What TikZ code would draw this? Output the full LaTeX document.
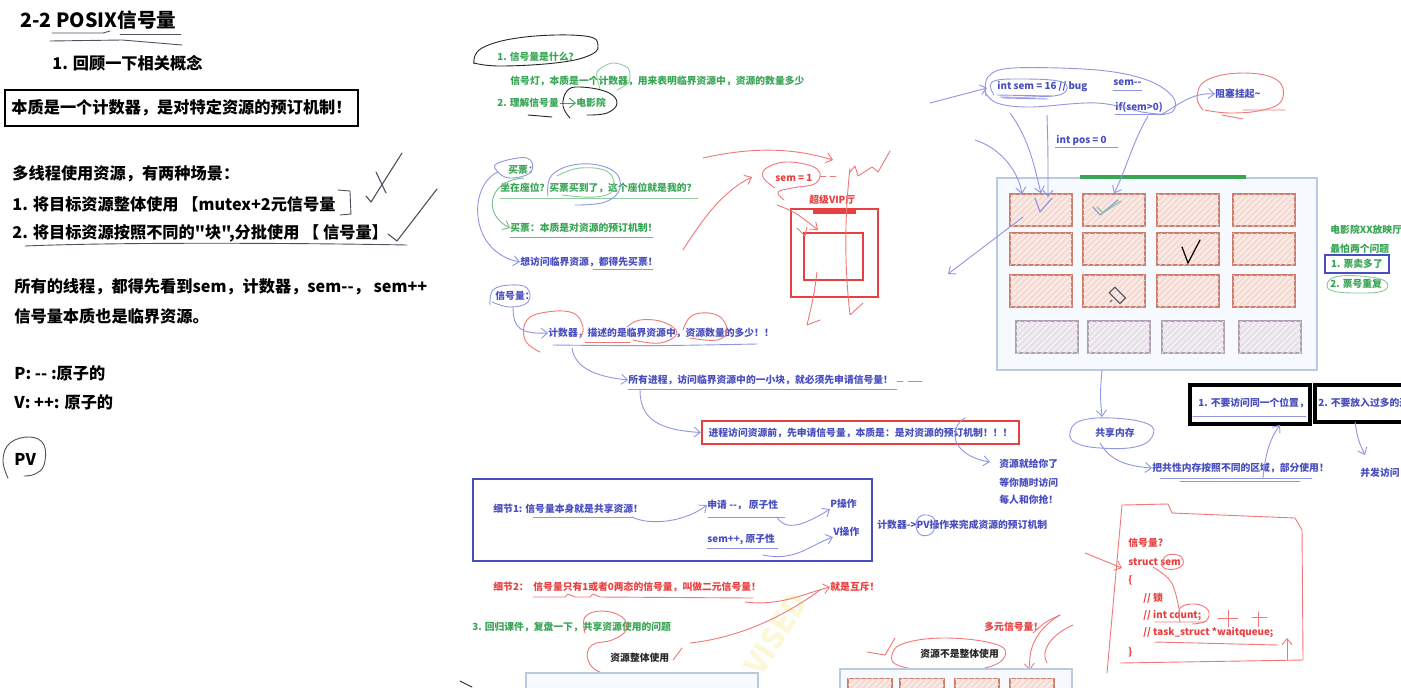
\documentclass[tikz,border=0pt]{standalone}
\usepackage{fontspec}
\newfontfamily\notefont{Noto Sans CJK SC}
\usetikzlibrary{arrows.meta, patterns}

\definecolor{notegreen}{RGB}{56,165,85}
\definecolor{noteblue}{RGB}{72,78,190}
\definecolor{notered}{RGB}{232,64,64}
\definecolor{penblue}{RGB}{145,150,225}
\definecolor{penred}{RGB}{240,120,120}
\definecolor{pengray}{RGB}{80,80,95}
\definecolor{hallline}{RGB}{185,202,225}
\definecolor{hallfill}{RGB}{246,249,253}
\definecolor{seatline}{RGB}{205,125,105}
\definecolor{seatfill}{RGB}{250,232,226}
\definecolor{backline}{RGB}{175,158,180}
\definecolor{backfill}{RGB}{241,237,242}
\definecolor{markyellow}{RGB}{252,248,215}

\begin{document}
\begin{tikzpicture}[x=0.5pt, y=-0.5pt,
  every node/.style={inner sep=0pt},
  bigtxt/.style={anchor=west, font=\notefont\bfseries\fontsize{8.1}{9}\selectfont},
  notetxt/.style={anchor=west, text=#1, font=\notefont\bfseries\fontsize{4.9}{6}\selectfont},
  gtxt/.style={notetxt=notegreen},
  btxt/.style={notetxt=noteblue},
  rtxt/.style={notetxt=notered},
  ktxt/.style={notetxt=black!85},
  pen/.style={draw=#1, line width=0.45pt, line cap=round, line join=round},
  pen/.default=penblue,
  barb/.style={-{Straight Barb[length=3pt, width=5pt]}},
  seatbox/.style={draw=seatline, line width=0.6pt, fill=seatfill, minimum width=31pt, minimum height=16pt,
    postaction={pattern=north east lines, pattern color=seatline!35}},
  backseat/.style={seatbox, draw=backline, fill=backfill,
    postaction={pattern=north east lines, pattern color=backline!35}},
  hallbox/.style={draw=hallline, fill=hallfill, line width=0.8pt},
  rulebox/.style={draw=black, line width=1.6pt}
]
\useasboundingbox (0,0) rectangle (1401,687);
\fill[white] (0,0) rectangle (1401,687);

% ===== 水印 =====
\node[rotate=58, text=markyellow, font=\notefont\bfseries\fontsize{15}{15}\selectfont] (mark) at (776,634) {VISED};

% ===== 左栏：概念回顾 =====
\node[bigtxt, font=\notefont\bfseries\fontsize{9.8}{11}\selectfont] (title) at (20,20) {2-2 POSIX信号量};
\draw[pen=pengray] (52,33) -- (103,33) -- (110,31);
\draw[pen=pengray] (120,34) -- (181,34);
\draw[pen=pengray] (50,41) -- (122,40) -- (182,45);
\node[bigtxt] (recall) at (52,63) {1. 回顾一下相关概念};
\node[bigtxt, anchor=center, draw, line width=1.4pt, minimum width=176.5pt, minimum height=18pt] (essence) at (181.5,108) {本质是一个计数器，是对特定资源的预订机制！};

\node[bigtxt] (scene) at (12,174) {多线程使用资源，有两种场景：};
\node[bigtxt] (scene1) at (12,204) {1. 将目标资源整体使用 【mutex+2元信号量};
\node[bigtxt] (scene2) at (12,233) {2. 将目标资源按照不同的"块",分批使用 【 信号量】};
\draw[pen=pengray] (scene1.east) ++(2,-14) -- ++(12,1) -- ++(1,23) -- ++(-11,1);
\draw[pen=pengray] (25,246) .. controls (120,242) and (300,243) .. (407,245);
\draw[pen=pengray, line width=0.55pt] (366,196) -- (371,202) -- (402,153);
\draw[pen=pengray, line width=0.55pt] (376,172) -- (386,193);
\draw[pen=pengray, line width=0.55pt] (388,234) -- (397,241) -- (437,189);

\node[bigtxt] (allsee) at (14,287) {所有的线程，都得先看到sem，计数器，sem--， sem++};
\node[bigtxt] (critical) at (14,316) {信号量本质也是临界资源。};
\node[bigtxt] (pop1) at (14,373) {P: -- :原子的};
\node[bigtxt] (vop1) at (14,402) {V: ++: 原子的};
\node[bigtxt] (pv) at (14,459) {PV};
\draw[pen=pengray] plot[smooth, tension=0.7] coordinates {(8,478) (3,460) (10,443) (30,437) (44,445) (44,465) (35,474) (24,476)};

% ===== 中栏：电影院类比 =====
\node[gtxt] (what) at (497,57) {1. 信号量是什么？};
\draw[pen=black!85] plot[smooth, tension=0.7] coordinates {(474,64) (482,48) (525,37) (585,36) (598,46) (588,56) (555,63) (500,66) (474,63)};
\node[gtxt] (lamp) at (510,81) {信号灯，本质是一个计数器，用来表明临界资源中，资源的数量多少};
\draw[pen=notegreen!55] plot[smooth] coordinates {(600,89) (597,72) (612,63) (628,68) (629,82) (617,90)};
\node[gtxt] (understand) at (497,103) {2. 理解信号量};
\node[gtxt] (theater) at (576,103) {电影院};
\draw[pen=notegreen, barb] (understand.east) ++(1,0) -- (theater.west);
\draw[pen=black!85] plot[smooth, tension=0.7] coordinates {(570,118) (563,106) (567,91) (580,87) (607,92) (617,103) (607,113) (587,115)};
\draw[pen=black!85] (528,115) -- (552,117);

\node[gtxt] (buy) at (508,170) {买票：};
\draw[pen] plot[smooth cycle, tension=0.7] coordinates {(498,163) (527,158) (531,172) (510,178) (497,171)};
\node[gtxt] (sitdown) at (500,188) {坐在座位？买票买到了，这个座位就是我的？};
\draw[pen=notegreen!55] (500,198) -- (698,198);
\draw[pen] plot[smooth, tension=0.7] coordinates {(548,196) (552,175) (580,164) (612,170) (620,188) (605,202) (575,205)};
\draw[pen=notegreen!60] plot[smooth, tension=0.7] coordinates {(557,176) (580,168) (608,172) (613,190) (595,197) (562,195)};
\node[gtxt] (buyessence) at (510,228) {买票：本质是对资源的预订机制！};
\draw[pen] (510,237) -- (653,237);
\draw[pen=notegreen!70, barb] (524,178) .. controls (488,180) and (482,214) .. (buyessence.west);
\node[btxt] (mustbuy) at (520,262) {想访问临界资源，都得先买票！};
\draw[pen] (593,269) -- (653,269);
\draw[pen, barb] (498,172) .. controls (468,185) and (468,252) .. (mustbuy.west);

% 超级VIP厅
\node[rtxt] (semone) at (775,178) {sem = 1};
\draw[pen=penred] plot[smooth, tension=0.7] coordinates {(775,188) (763,177) (768,167) (790,162) (817,169) (816,183) (792,188) (778,192) (784,200)};
\draw[pen=penred] (820,176) -- (826,176) (830,176) -- (836,176);
\draw[pen=penred, barb] (683,250) .. controls (705,215) and (725,190) .. (752,177);
\draw[pen=penred, barb] (703,158) .. controls (760,145) and (800,150) .. (833,160);
\draw[pen=penred] (850,172) -- (855,166) -- (858,176) -- (872,167) -- (878,172) -- (890,151);
\node[rtxt] (viplabel) at (809,200) {超级VIP厅};
\node[draw=notered, line width=1.2pt, minimum width=43.5pt, minimum height=44pt] (viphall) at (834.5,253) {};
\draw[notered, line width=2.4pt] (813,212) -- (856,212);
\node[draw=notered, line width=1.2pt, minimum width=29.5pt, minimum height=23.5pt] (vipinner) at (833.5,256.5) {};
\draw[pen=penred, barb] (777,205) .. controls (795,212) .. (818,230);
\draw[pen=penred] (797,228) -- (805,236) -- (807,227);
\draw[pen=penred] (850,168) .. controls (843,230) and (846,280) .. (850,315) -- (863,303);
\draw[pen=penred] (817,272) .. controls (814,295) .. (807,325) -- (820,320);

% 信号量：计数器
\node[btxt] (sigq) at (495,296) {信号量：};
\draw[pen] plot[smooth, tension=0.7] coordinates {(490,305) (493,290) (510,285) (527,288) (528,302) (510,307) (492,302)};
\node[btxt] (counter) at (548,333) {计数器，描述的是临界资源中，资源数量的多少！！};
\draw[pen, barb] (513,307) .. controls (513,328) and (520,334) .. (counter.west);
\draw[pen=penred] plot[smooth, tension=0.7] coordinates {(540,352) (525,340) (527,320) (547,312) (573,313) (583,327) (580,338)};
\draw[pen=penred] plot[smooth, tension=0.7] coordinates {(627,327) (640,320) (663,322) (677,333) (660,343) (633,340)};
\draw[pen=penred] plot[smooth, tension=0.7] coordinates {(683,330) (693,315) (717,315) (727,330) (717,340) (690,338)};
\draw[pen=penred] (585,342) -- (630,342);
\draw[pen] (553,345) .. controls (650,346) .. (757,344);
\node[btxt] (allproc) at (628,380) {所有进程，访问临界资源中的一小块，就必须先申请信号量！};
\draw[pen] (897,381) -- (903,381) (908,381) -- (922,381);
\draw[pen, barb] (572,348) .. controls (575,370) and (600,377) .. (allproc.west);
\draw[pen] (628,389) -- (897,389);
\node[btxt, anchor=center, draw=notered, line width=1.2pt, minimum width=158.5pt, minimum height=11.5pt] (reserve) at (860.5,432.5) {进程访问资源前，先申请信号量，本质是：是对资源的预订机制！！！};
\draw[pen, barb] (640,390) .. controls (640,420) and (660,430) .. (reserve.west);
\draw[pen, barb] (965,418) .. controls (948,428) and (950,455) .. (990,462);
\node[btxt] (give1) at (999,464) {资源就给你了};
\node[btxt] (give2) at (999,483) {等你随时访问};
\node[btxt] (give3) at (999,500) {每人和你抢！};

% 细节1 / 细节2
\node[draw=noteblue, line width=1pt, minimum width=199.5pt, minimum height=41pt] (detailbox) at (672.5,520) {};
\node[btxt] (detail1) at (493,509) {细节1: 信号量本身就是共享资源！};
\draw[pen] (533,517) -- (633,517);
\node[btxt] (apply) at (707,505) {申请 --， 原子性};
\draw[pen] (708,517) -- (785,517);
\node[btxt] (sempp) at (707,539) {sem++, 原子性};
\draw[pen] (707,548) -- (778,548);
\node[btxt] (pstep) at (830,504) {P操作};
\node[btxt] (vstep) at (833,532) {V操作};
\draw[pen, barb] (632,517) .. controls (650,526) and (685,522) .. (apply.west);
\draw[pen, barb] (777,517) .. controls (785,532) and (805,525) .. (pstep.south west);
\draw[pen, barb] (763,555) .. controls (795,562) and (810,545) .. (vstep.south west);
\node[btxt] (pvmech) at (877,525) {计数器->PV操作来完成资源的预订机制};
\draw[pen] plot[smooth cycle, tension=0.7] coordinates {(916,526) (919,517) (928,515) (935,521) (932,533) (921,535)};

\node[rtxt] (detail2) at (493,587) {细节2：};
\node[rtxt] (binary) at (533,587) {信号量只有1或者0两态的信号量，叫做二元信号量！};
\draw[pen=penred] (533,597) -- (565,597) -- (568,594) -- (575,597) -- (590,597) -- (593,594) -- (600,597) -- (753,598);
\node[rtxt] (mutex) at (830,587) {就是互斥！};
\draw[pen=penred, barb] (745,602) .. controls (780,606) and (800,595) .. (mutex.west);
\draw[pen=penred] (690,643) .. controls (745,637) and (790,612) .. (820,590);
\node[gtxt] (review) at (472,627) {3. 回归课件，复盘一下，共享资源使用的问题};
\draw[pen=penred] plot[smooth, tension=0.7] coordinates {(585,633) (585,617) (602,611) (622,617) (626,630) (612,640) (592,645) (588,660) (602,673) (635,678)};
\draw[pen=penred] (673,660) -- (682,648);
\node[ktxt] (whole) at (610,658) {资源整体使用};
\node[hallbox, anchor=north west, minimum width=116pt, minimum height=30pt] (wholebox) at (525,672) {};
\draw[pen=black!85] (460,681) -- (472,687);

\node[ktxt] (partlabel) at (920,654) {资源不是整体使用};
\draw[pen=penred] plot[smooth cycle, tension=0.7] coordinates {(892,655) (905,643) (947,638) (995,644) (1005,656) (985,668) (940,671) (900,666)};
\draw[pen=penred] (867,652) -- (885,655) -- (895,638);
\node[rtxt] (multi) at (984,627) {多元信号量！};
\draw[pen=penred] (1033,633) .. controls (1045,622) .. (1060,615);
\draw[pen=penred, barb] (1060,615) .. controls (1035,630) and (1028,650) .. (1030,670);
\draw[pen=penred] (1073,625) .. controls (1050,635) and (1040,652) .. (1047,663);
\node[hallbox, anchor=north west, minimum width=116pt, minimum height=30pt] (partbox) at (839,668) {};
\foreach \x [count=\i] in {870,922,977,1032}
  \node[seatbox, anchor=north, minimum width=22pt] (pseat\i) at (\x,678) {};

% ===== 右栏：放映厅 =====
\node[btxt] (sem16) at (997,87) {int sem = 16 // bug};
\draw[pen] plot[smooth, tension=0.7] coordinates {(994,95) (992,82) (1020,79) (1062,82) (1062,94) (1030,97) (1000,97)};
\draw[pen] (997,95) -- (1052,96) (1003,98) -- (1048,99);
\node[btxt] (semdec) at (1113,83) {sem--};
\draw[pen] (1113,90) -- (1142,90);
\node[btxt] (semif) at (1115,107) {if(sem>0)};
\draw[pen] (1115,114) -- (1165,114);
\draw[pen] plot[smooth, tension=0.6] coordinates {(986,96) (988,77) (1013,68) (1097,70) (1147,80) (1173,97) (1172,112) (1148,113) (1097,103) (1030,107) (997,103) (985,92)};
\node[btxt] (pos) at (1056,140) {int pos = 0};
\draw[pen] (1055,147) -- (1118,147);
\node[btxt] (blocked) at (1215,94) {阻塞挂起\textasciitilde};
\draw[pen=penred] plot[smooth, tension=0.7] coordinates {(1203,110) (1197,97) (1207,80) (1243,73) (1277,80) (1282,100) (1263,110) (1230,113) (1205,110)};
\draw[pen=penred] (1243,110) -- (1285,110) (1222,115) -- (1243,119);
\draw[pen, barb] (1160,115) .. controls (1175,108) and (1190,92) .. (blocked.west);
\draw[pen, barb] (930,103) -- (987,88);

\node[hallbox, minimum width=160pt, minimum height=96pt] (hall) at (1157,274) {};
\draw[notegreen, line width=2pt] (1080,177) -- (1246,177);
\foreach \r/\y in {1/210,2/249,3/291}
  \foreach \c/\x in {1/1041,2/1114,3/1188,4/1264}
    \node[seatbox] (s\r\c) at (\x,\y) {};
\foreach \c/\x in {1/1047,2/1119,3/1193,4/1270}
  \node[backseat] (s4\c) at (\x,337) {};

\draw[pen, barb] (1010,113) .. controls (1030,140) and (1035,170) .. (s11.north);
\draw[pen, barb] (1047,115) .. controls (1048,150) .. (1048,197);
\draw[pen, barb] (975,140) .. controls (1000,148) and (1018,170) .. (1022,194);
\draw[pen, barb] (1148,116) .. controls (1132,143) and (1126,170) .. (s12.north);
\draw[pen, barb] (1023,217) -- (948,274);
\draw[pen, line width=0.6pt] (1035,198) -- (1040,212) -- (1052,198);
\draw[pen, line width=0.6pt] (1093,207) -- (1100,215) -- (1118,200);
\draw[pen=notegreen!60, line width=0.6pt] (1097,207) -- (1103,213) -- (1121,201);
\draw[black, line width=0.6pt, line cap=round] (1182,247) -- (1188,263) -- (1200,240);
\draw[pengray, line width=0.5pt, rotate around={45:(1117,295)}] (1113,288) rectangle (1121,303);
\draw[pengray, line width=0.5pt] (1112,300) -- (1110,302);

\node[gtxt] (worry0) at (1330,230) {电影院XX放映厅};
\node[gtxt] (worry) at (1330,249) {最怕两个问题};
\node[gtxt, anchor=center, draw=noteblue, line width=1pt, minimum width=32pt, minimum height=9pt] (worry1) at (1357,264) {1. 票卖多了};
\node[gtxt] (worry2) at (1330,284) {2. 票号重复};
\draw[pen=notegreen!60] plot[smooth cycle, tension=0.7] coordinates {(1327,285) (1335,277) (1360,276) (1385,281) (1383,291) (1355,293) (1333,291)};

% 共享内存
\node[btxt] (shm) at (1095,433) {共享内存};
\draw[pen] plot[smooth cycle, tension=0.7] coordinates {(1070,433) (1080,421) (1112,418) (1148,424) (1152,437) (1135,447) (1100,448) (1076,443)};
\draw[pen, barb] (1102,370) .. controls (1100,395) .. (1102,417);
\node[btxt] (part) at (1152,468) {把共性内存按照不同的区域，部分使用！};
\draw[pen] (1160,478) -- (1312,478) (1180,481) -- (1300,481);
\draw[pen, barb] (1100,443) .. controls (1110,460) and (1125,466) .. (part.west);
\node[rulebox, minimum width=60pt, minimum height=19.5pt] (rule1) at (1250,404.5) {};
\node[btxt] (rule1txt) at (1198,403) {1. 不要访问同一个位置，};
\draw[pen] (1193,416) -- (1306,416);
\node[rulebox, minimum width=62pt, minimum height=18.5pt] (rule2) at (1377,403.5) {};
\node[btxt] (rule2txt) at (1318,403) {2. 不要放入过多的进};
\draw[pen, barb] (1263,478) .. controls (1265,455) and (1270,438) .. (1280,425);
\draw[pen, barb] (1355,422) .. controls (1358,440) .. (1365,455);
\node[btxt] (conc) at (1360,473) {并发访问};

% 信号量结构体
\draw[pen=penred] (1107,673) -- (1122,505) -- (1168,504) -- (1172,513) -- (1295,518) -- (1302,530) -- (1303,660) -- (1120,663);
\node[rtxt] (semq) at (1128,543) {信号量?};
\node[rtxt] (structsem) at (1128,562) {struct sem};
\node[rtxt] (lbrace) at (1128,580) {\{};
\node[rtxt] (lock) at (1143,598) {// 锁};
\node[rtxt] (count) at (1143,616) {// int count;};
\node[rtxt] (waitq) at (1143,633) {// task\_struct *waitqueue;};
\node[rtxt] (rbrace) at (1128,652) {\}};
\draw[pen=penred, barb] (1085,553) -- (1122,568);
\draw[pen=penred] plot[smooth cycle, tension=0.7] coordinates {(1162,562) (1168,555) (1180,556) (1183,564) (1175,569) (1164,568)};
\draw[pen=penred] (1153,567) .. controls (1173,580) .. (1180,613);
\draw[pen=penred] plot[smooth, tension=0.7] coordinates {(1180,622) (1180,608) (1195,604) (1208,610) (1206,621) (1192,624)};
\draw[pen=penred] (1155,622) -- (1205,622) (1155,642) -- (1278,645);
\draw[pen=penred] (1228,610) -- (1228,627) (1218,618) -- (1238,618);
\draw[pen=penred] (1258,612) -- (1258,627) (1252,617) -- (1267,617);
\draw[pen=penred, barb] (1287,660) -- (1287,638);
\end{tikzpicture}
\end{document}
